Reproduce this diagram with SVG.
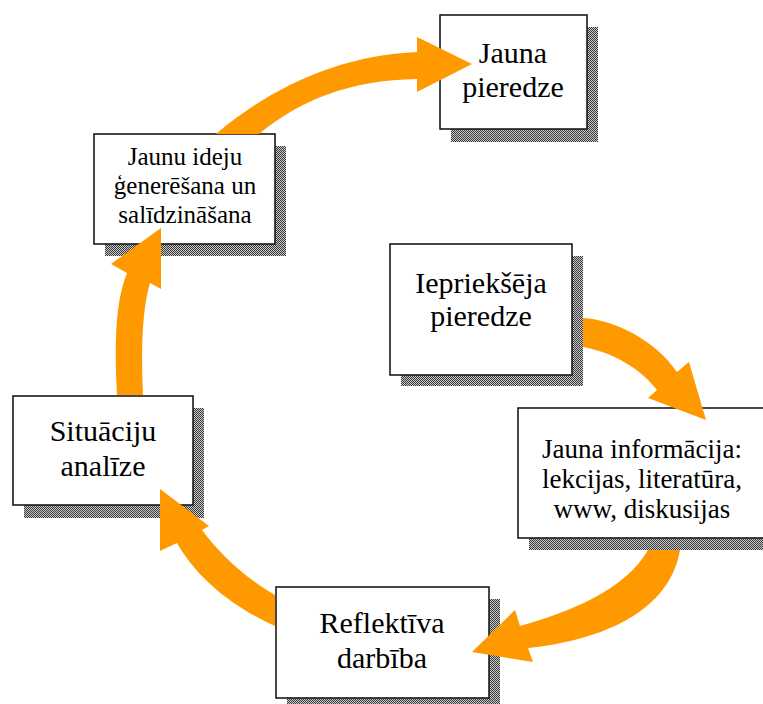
<svg xmlns="http://www.w3.org/2000/svg" width="763" height="704" viewBox="0 0 763 704">
  <defs>
    <!-- fine dithered fill for the drop shadows -->
    <pattern id="dither" width="2" height="2" patternUnits="userSpaceOnUse">
      <rect width="2" height="2" fill="#c8c8c8"/>
      <rect x="0" y="0" width="1" height="1" fill="#3a3a3a"/>
      <rect x="1" y="1" width="1" height="1" fill="#3a3a3a"/>
    </pattern>
  </defs>

  <rect width="763" height="704" fill="#ffffff"/>

  <!-- nodes: dithered shadow, white box, centred serif label -->
  <g id="nodes" font-family="Liberation Serif" text-anchor="middle" fill="#000">
    <g id="jauna-pieredze">
      <rect fill="url(#dither)" x="451" y="27" width="147" height="115"/>
      <rect fill="#fff" stroke="#1a1a1a" stroke-width="1.6" x="440" y="15" width="147" height="114"/>
      <text font-size="30" x="513" y="63">Jauna</text>
      <text font-size="30" x="513" y="97">pieredze</text>
    </g>

    <g id="jaunu-ideju">
      <rect fill="url(#dither)" x="105" y="146" width="181" height="110"/>
      <rect fill="#fff" stroke="#1a1a1a" stroke-width="1.6" x="94" y="134" width="181" height="110"/>
      <text font-size="25" x="185" y="165">Jaunu ideju</text>
      <text font-size="25" x="185" y="194">ģenerēšana un</text>
      <text font-size="25" x="185" y="223">salīdzināšana</text>
    </g>

    <g id="ieprieksejas-pieredze">
      <rect fill="url(#dither)" x="401" y="256" width="182" height="130"/>
      <rect fill="#fff" stroke="#1a1a1a" stroke-width="1.6" x="390" y="244" width="182" height="131"/>
      <text font-size="30" x="481" y="293">Iepriekšēja</text>
      <text font-size="30" x="481" y="326">pieredze</text>
    </g>

    <g id="jauna-informacija">
      <rect fill="url(#dither)" x="529" y="420" width="248" height="130"/>
      <rect fill="#fff" stroke="#1a1a1a" stroke-width="1.6" x="518" y="408" width="248" height="130"/>
      <text font-size="27" x="642" y="458">Jauna informācija:</text>
      <text font-size="27" x="642" y="488">lekcijas, literatūra,</text>
      <text font-size="27" x="642" y="518">www, diskusijas</text>
    </g>

    <g id="situaciju-analize">
      <rect fill="url(#dither)" x="24" y="408" width="180" height="110"/>
      <rect fill="#fff" stroke="#1a1a1a" stroke-width="1.6" x="13" y="396" width="180" height="109"/>
      <text font-size="30" x="103" y="441">Situāciju</text>
      <text font-size="30" x="103" y="476">analīze</text>
    </g>

    <g id="reflektiva-darbiba">
      <rect fill="url(#dither)" x="287" y="599" width="213" height="111"/>
      <rect fill="#fff" stroke="#1a1a1a" stroke-width="1.6" x="276" y="587" width="213" height="111"/>
      <text font-size="30" x="382" y="633">Reflektīva</text>
      <text font-size="30" x="382" y="668">darbība</text>
    </g>
  </g>

  <!-- connectors: thick curved block arrows around the cycle -->
  <g id="connectors" fill="#ff9900">
    <path d="M259,134 C300,100 350,80 417,79 L417,92 L472,64 L417,37 L417,52 C340,55 270,88 216,134 Z"/>
    <path d="M583,318 C615,320 655,340 677,372 L689,362 L706,420 L648,398 L657,390 C640,368 612,352 583,347 Z"/>
    <path d="M680,550 C670,610 605,640 528,648 L533,662 L472,652 L515,610 L520,626 C570,612 625,590 648,550 Z"/>
    <path d="M275,595 C245,578 218,552 202,530 L209,526 L160,489 L160,551 L177,543 C198,580 235,608 275,626 Z"/>
    <path d="M117,395 C114,340 116,300 127,273 L111,264 L161,228 L161,289 L150,283 C142,310 141,350 143,395 Z"/>
  </g>
</svg>
